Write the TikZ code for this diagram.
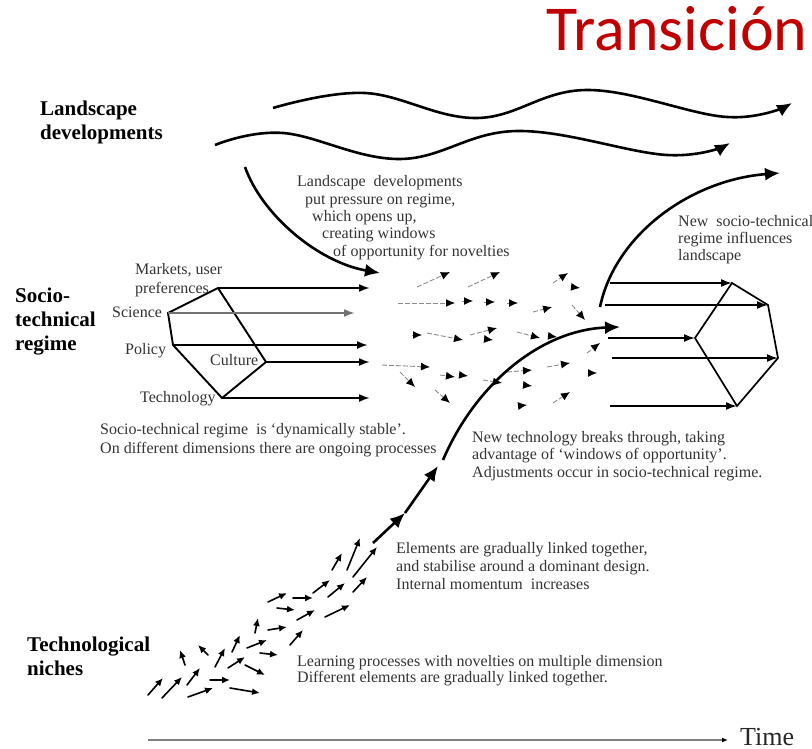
\documentclass[tikz,border=0pt]{standalone}
\usepackage{fontspec}
\setmainfont{Liberation Serif}
\newfontfamily\titlefont{Carlito}
\usepackage{tikz}
\usetikzlibrary{arrows.meta}
\definecolor{titlered}{RGB}{192,0,0}
\tikzset{
ARC/.style ={draw=black,line join=miter,line cap=butt,line width=2.6pt,-{Latex[length=15pt,width=13pt]}},
REGARC/.style ={draw=black,line cap=butt,line width=1.9pt,-{Latex[length=11pt,width=8pt]}},
EDGE/.style ={draw=black,line join=miter,line width=1.9pt},
SMALLARC/.style ={draw=black!45,line width=0.9pt,dash pattern=on 5pt off 2pt,-{Latex[length=9pt,width=8pt,color=black]}},
NICHEARC/.style ={draw=black,line width=1.6pt,line cap=round,-{Latex[length=8pt,width=7pt]}},
AXIS/.style ={draw=black!50,line width=2pt,-{Latex[length=6pt,width=5pt,color=black]}},
TEXT/.style={anchor=base west,align=left,inner sep=0pt,text=black!80,font=\fontsize{16}{#1}\selectfont},
TEXT/.default = 17.5,
HEAD/.style={anchor=base west,align=left,inner sep=0pt,font=\fontsize{21}{24}\selectfont\bfseries},
}
\begin{document}
\begin{tikzpicture}
[x=1pt,y=-1pt]
	\useasboundingbox (0,0) rectangle (812,749);
	%Title
	\node[anchor=base west,inner sep=0pt,text=titlered,font=\titlefont\fontsize{64}{64}\selectfont] (title) at (546,51) {Transición};
	%Levels (multi-line nodes sit on their last baseline)
	\node[HEAD] (landhead) at (40,140) {Landscape\\developments};
	\node[HEAD] (reghead) at (15,350) {Socio-\\technical\\regime};
	\node[HEAD] (nichehead) at (27,675) {Technological\\niches};
	%Landscape waves
	\path[ARC] plot[smooth,tension=0.65] coordinates {(273,108) (365,93) (477,118) (587,90) (727,117) (792,103)};
	\path[ARC] plot[smooth,tension=0.65] coordinates {(215,145) (283,133) (400,159) (517,131) (667,155) (730,143)};
	\coordinate (lc0) at (245,167);
	\coordinate (lc1) at (380,273);
	\path[ARC] (lc0) .. controls (262,215) and (318,262) .. (lc1);
	\node[TEXT=17.3] (landtext) at (297,256) {Landscape\ \ developments\\
		\hspace*{8pt}put pressure on regime,\\
		\hspace*{15pt}which opens up,\\
		\hspace*{25pt}creating windows\\
		\hspace*{36pt}of opportunity for novelties};
	%Current regime
	\coordinate (mk) at (218,288);
	\coordinate (sc) at (168,313);
	\coordinate (po) at (173,345);
	\coordinate (te) at (222,398);
	\coordinate (cu) at (266,362);
	\coordinate (mkE) at (370,288);
	\coordinate (scE) at (355,313);
	\coordinate (poE) at (368,345);
	\coordinate (cuE) at (370,362);
	\coordinate (teE) at (370,398);
	\path[EDGE] (mk) -- (sc) -- (po) -- (te) -- (cu) -- cycle;
	\path[REGARC] (mk) -- (mkE);
	\path[REGARC,draw=black!55] (sc) -- (scE);
	\path[REGARC] (po) -- (poE);
	\path[REGARC] (cu) -- (cuE);
	\path[REGARC] (te) -- (teE);
	\node[TEXT=19] (markets) at (135,293) {Markets, user\\preferences};
	\node[TEXT] (science) at (112,317) {Science};
	\node[TEXT] (policy) at (125,354) {Policy};
	\node[TEXT] (culture) at (210,365) {Culture};
	\node[TEXT] (technology) at (140,402) {Technology};
	\node[TEXT=19] (stable) at (100,453) {Socio-technical regime\ \ is `dynamically stable'.\\On different dimensions there are ongoing processes};
	%Windows of opportunity
	\foreach \a/\b/\c/\d in {417/287/450/272, 468/287/500/272, 398/303/455/303, 462/301/473/301,
		484/302/495/302, 507/303/518/303, 533/312/552/307, 553/283/568/273, 572/287/580/288,
		572/305/585/320, 412/335/422/335, 427/333/463/340, 470/335/497/328, 484/339/493/340,
		517/332/540/338, 549/336/557/337, 382/365/430/367, 400/372/415/387, 435/390/450/403,
		440/375/455/377, 460/375/468/376, 483/380/502/383, 507/372/532/370, 523/385/532/386,
		547/367/570/363, 587/353/600/343, 588/373/597/373, 518/406/527/405, 553/403/570/392}
		\path[SMALLARC] (\a,\b) -- (\c,\d);
	%Niches
	\foreach \a/\b/\c/\d in {148/695/163/678, 162/698/182/677, 187/685/200/668, 188/697/213/688,
		185/665/180/650, 208/655/198/645, 210/680/230/680, 230/688/260/693, 215/667/225/648,
		228/668/245/657, 232/652/240/635, 245/665/265/675, 247/648/267/640, 260/653/278/655,
		255/633/258/618, 268/630/287/627, 290/645/303/630, 268/602/287/593, 277/608/295/610,
		297/620/315/610, 293/598/313/598, 313/593/330/580, 325/617/350/605, 328/597/345/583,
		353/592/367/577, 332/570/342/553, 347/570/360/538, 353/577/377/547}
		\path[NICHEARC] (\a,\b) -- (\c,\d);
	\node[TEXT=16] (learning) at (297,682) {Learning processes with novelties on multiple dimension\\Different elements are gradually linked together.};
	\node[TEXT=18] (elements) at (396,589) {Elements are gradually linked together,\\and stabilise around a dominant design.\\Internal momentum\ \ increases};
	%Breakthrough
	\coordinate (ns0) at (373,543);
	\coordinate (ns1) at (405,513);
	\coordinate (ns2) at (438,466);
	\coordinate (bt0) at (443,460);
	\coordinate (bt1) at (620,327);
	\path[ARC] (ns0) -- (ns1);
	\path[ARC] (ns1) -- (ns2);
	\path[ARC] (bt0) .. controls (475,385) and (540,330) .. (bt1);
	\node[TEXT] (breaks) at (472,477) {New technology breaks through, taking\\advantage of `windows of opportunity'.\\Adjustments occur in socio-technical regime.};
	%New regime
	\coordinate (na) at (732,283);
	\coordinate (nb) at (768,305);
	\coordinate (nc) at (778,358);
	\coordinate (nd) at (737,406);
	\coordinate (ne) at (695,338);
	\path[EDGE,line width=1.7pt] (na) -- (nb) -- (nc) -- (nd) -- (ne) -- cycle;
	\path[REGARC,line width=1.7pt] (610,283) -- (na);
	\path[REGARC,line width=1.7pt] (605,305) -- (nb);
	\path[REGARC,line width=1.7pt] (608,338) -- (ne);
	\path[REGARC,line width=1.7pt] (612,358) -- (nc);
	\path[REGARC,line width=1.7pt] (610,406) -- (nd);
	\coordinate (in0) at (600,307);
	\coordinate (in1) at (780,173);
	\path[ARC] (in0) .. controls (615,235) and (690,180) .. (in1);
	\node[TEXT=17] (influence) at (678,260) {New\ \ socio-technical\\regime influences\\landscape};
	%Time
	\coordinate (t0) at (148,740);
	\coordinate (t1) at (728,740);
	\path[AXIS] (t0) -- (t1);
	\node[anchor=base west,inner sep=0pt,text=black!85,font=\fontsize{26}{26}\selectfont] (time) at (740,745) {Time};
\end{tikzpicture}
\end{document}
